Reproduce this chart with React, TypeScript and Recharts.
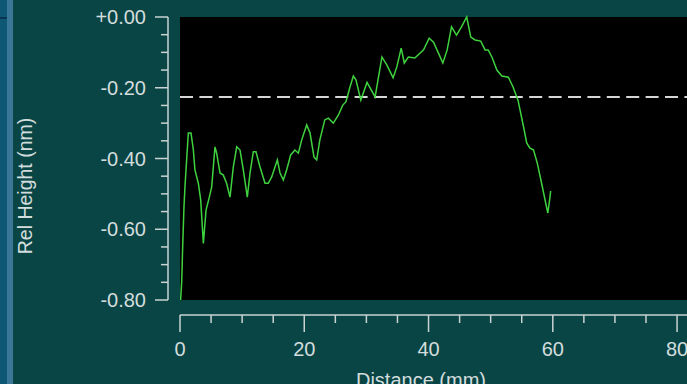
import React from 'react';
import { LineChart, Line, XAxis, YAxis, CartesianGrid, ReferenceLine } from 'recharts';

// profile trace
const distance = [
  0.1, 0.27, 0.43, 0.64, 0.8, 1.07, 1.34, 1.77, 2.15, 2.4, 2.95, 3.33, 3.76, 4.19, 4.72, 5.1,
  5.63, 5.9, 6.44, 6.97, 7.5, 8.05, 8.58, 9.13, 9.66, 10.19, 10.83, 11.27, 11.8, 12.23, 12.88,
  13.68, 14.2, 14.76, 15.29, 15.67, 16.1, 16.63, 17.17, 17.81, 18.5, 19.05, 19.58, 20.39, 20.93,
  21.57, 22, 22.5, 23.3, 23.87, 24.68, 25.5, 26.2, 26.7, 27.36, 27.9, 28.33, 29.1, 30.1, 31.4,
  32.5, 33.3, 34.3, 34.9, 35.6, 36.1, 36.75, 37.8, 39.2, 40.1, 40.8, 41.6, 42.3, 43.0, 43.7,
  44.5, 45.3, 46.15, 46.8, 47.5, 48.4, 49.1, 49.6, 50.2, 51, 51.8, 52.85, 53.6, 54.4, 55.3,
  55.8, 56.3, 56.9, 57.5, 58.2, 58.75, 59.2, 59.55, 59.65,
];
const relHeight = [
  -0.8, -0.75, -0.65, -0.537, -0.48, -0.404, -0.328, -0.328, -0.376, -0.432, -0.47, -0.517,
  -0.64, -0.546, -0.509, -0.48, -0.367, -0.385, -0.441, -0.447, -0.47, -0.509, -0.424, -0.367,
  -0.376, -0.432, -0.509, -0.441, -0.381, -0.381, -0.424, -0.47, -0.47, -0.452, -0.424, -0.404,
  -0.441, -0.461, -0.432, -0.39, -0.376, -0.385, -0.348, -0.305, -0.328, -0.396, -0.404, -0.348,
  -0.291, -0.286, -0.3, -0.277, -0.249, -0.24, -0.198, -0.167, -0.178, -0.235, -0.185, -0.226,
  -0.113, -0.136, -0.172, -0.141, -0.088, -0.13, -0.113, -0.116, -0.093, -0.06, -0.071, -0.102,
  -0.13, -0.093, -0.028, -0.051, -0.028, 0.0, -0.057, -0.065, -0.068, -0.093, -0.093, -0.113,
  -0.15, -0.167, -0.17, -0.198, -0.235, -0.311, -0.356, -0.37, -0.376, -0.413, -0.47, -0.517,
  -0.554, -0.509, -0.492,
];
const refLevel = -0.226;

const xTicks = [0, 5, 10, 15, 20, 25, 30, 35, 40, 45, 50, 55, 60, 65, 70, 75, 80];
const yTicks = [0, -0.05, -0.1, -0.15, -0.2, -0.25, -0.3, -0.35, -0.4, -0.45, -0.5, -0.55, -0.6, -0.65, -0.7, -0.75, -0.8];

const data = distance.map((x, i) => ({ x, y: relHeight[i] }));

const W = 687;
const H = 384;
const TOP = 17;
const Y_AXIS_W = 180;
const X_AXIS_H = 84;
const PLOT_H = H - TOP - X_AXIS_H;
const AXIS_COLOR = '#c9d3d3';
const TEXT_COLOR = '#d3dddd';
const FONT = '"Liberation Sans", Arial, sans-serif';

const isMajor = (v: number) => Math.round(v * 100) % 20 === 0;

const YTick = (props: any) => {
  const { y, payload } = props;
  const v = payload.value;
  const ax = Y_AXIS_W - 12;
  const major = isMajor(v);
  return (
    <g>
      {v === 0 && <line x1={ax} x2={ax} y1={y} y2={y + PLOT_H} stroke={AXIS_COLOR} strokeWidth={1.5} />}
      <line x1={ax - (major ? 13 : 7)} x2={ax} y1={y} y2={y} stroke={AXIS_COLOR} strokeWidth={1.5} />
      {major && (
        <text x={146} y={y} dy="0.36em" textAnchor="end" fill={TEXT_COLOR} fontSize={20} fontFamily={FONT}>
          {v === 0 ? '+0.00' : v.toFixed(2)}
        </text>
      )}
    </g>
  );
};

const XTick = (props: any) => {
  const { x, payload } = props;
  const v = payload.value;
  const ay = TOP + PLOT_H + 15;
  const major = v % 20 === 0;
  return (
    <g>
      {v === 0 && <line x1={x} x2={W} y1={ay} y2={ay} stroke={AXIS_COLOR} strokeWidth={1.5} />}
      <line x1={x} x2={x} y1={ay} y2={ay + (major ? 17 : 8)} stroke={AXIS_COLOR} strokeWidth={1.5} />
      {major && (
        <text x={x} y={ay + 34} dy="0.36em" textAnchor="middle" fill={TEXT_COLOR} fontSize={20} fontFamily={FONT}>
          {v}
        </text>
      )}
    </g>
  );
};

const App: React.FC = () => {
  return (
    <div style={{ position: 'fixed', left: 0, top: 0, width: W, height: H, overflow: 'hidden', background: '#0a4545' }}>
      {/* window edge strip on the left */}
      <div style={{ position: 'absolute', left: 0, top: 0, width: 7, height: H, background: '#0e5876' }} />
      <div style={{ position: 'absolute', left: 7, top: 0, width: 6, height: H, background: '#3b7897' }} />
      <div style={{ position: 'absolute', left: 0, top: 17, width: 7, height: 2, background: '#0a3550' }} />
      <LineChart width={W} height={H} data={data} margin={{ top: TOP, right: 0, bottom: 0, left: 0 }}>
        <CartesianGrid horizontal={false} vertical={false} fill="#000000" stroke="none" />
        <XAxis
          type="number"
          dataKey="x"
          domain={[0, 81.6]}
          ticks={xTicks}
          allowDataOverflow
          height={X_AXIS_H}
          axisLine={false}
          tickLine={false}
          tick={<XTick />}
          interval={0}
          label={{
            content: () => (
              <text x={421} y={387} textAnchor="middle" fill={TEXT_COLOR} fontSize={20} fontFamily={FONT}>
                Distance (mm)
              </text>
            ),
          }}
        />
        <YAxis
          type="number"
          domain={[-0.8, 0]}
          ticks={yTicks}
          width={Y_AXIS_W}
          axisLine={false}
          tickLine={false}
          tick={<YTick />}
          interval={0}
          label={{
            content: () => (
              <text
                x={25}
                y={186}
                transform="rotate(-90 25 186)"
                dy="0.36em"
                textAnchor="middle"
                fill={TEXT_COLOR}
                fontSize={19.5}
                fontFamily={FONT}
              >
                Rel Height (nm)
              </text>
            ),
          }}
        />
        <ReferenceLine y={refLevel} stroke="#d6d6d6" strokeWidth={2} strokeDasharray="13 6.4" />
        <Line
          type="linear"
          dataKey="y"
          stroke="#3fd23f"
          strokeWidth={1.5}
          dot={false}
          isAnimationActive={false}
        />
      </LineChart>
    </div>
  );
};

export default App;
